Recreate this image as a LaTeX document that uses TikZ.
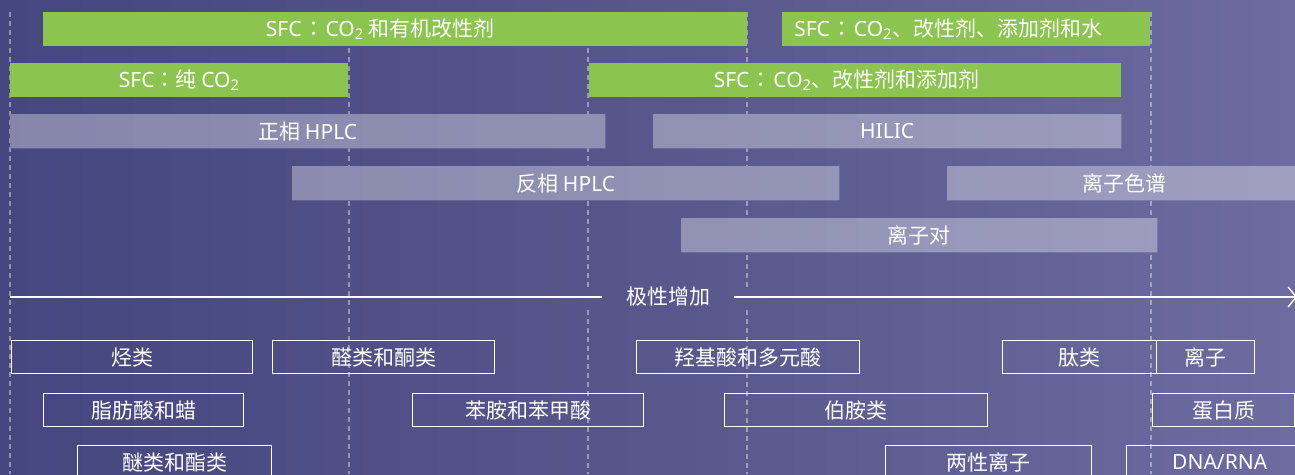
\documentclass[tikz,border=0pt]{standalone}
\usepackage{fontspec}
\setmainfont{Noto Sans CJK SC}
\newfontfamily\lat{Noto Sans}
\newfontfamily\tccolon{Noto Sans CJK TC}
\usetikzlibrary{arrows.meta}
\definecolor{bgL}{HTML}{464680}
\definecolor{bgM}{HTML}{57578C}
\definecolor{bgR}{HTML}{6D6BA0}
\definecolor{sfcgreen}{HTML}{8BC54F}
\pgfdeclarelayer{backdrop}
\pgfdeclarelayer{guides}
\pgfdeclarelayer{barfill}
\pgfsetlayers{backdrop,guides,barfill,main}
\newcommand{\cotwo}{{\lat CO\textsubscript{2}}}
\newcommand{\sfc}{{\lat SFC}}
\newcommand{\wcolon}{\hspace*{1.5pt}{\tccolon ：}\hspace*{1.5pt}}
\newcommand{\ncolon}{{\tccolon ：}}
\tikzset{
  txt/.style={text=white, font=\fontsize{21}{22}\selectfont},
  bar/.style={txt, anchor=north west, minimum height=34pt, inner sep=0pt},
  greenbar/.style={bar, fill=sfcgreen},
  graybar/.style={bar},
  cbox/.style={txt, anchor=north west, minimum height=33pt, inner sep=0pt, draw=white, line width=1.4pt},
  guide/.style={draw=white, draw opacity=0.4, line width=1.1pt, dash pattern=on 5pt off 4pt},
  axisline/.style={draw=white, line width=1.6pt},
  bgshade/.style={left color=bgL, right color=bgR, middle color=bgM},
}
\begin{document}
\begin{tikzpicture}[x=1pt,y=-1pt]
\useasboundingbox (0,0) rectangle (1295,474);
\clip (0,0) rectangle (1295,474);
\begin{pgfonlayer}{backdrop}
\shade[bgshade] (0,0) rectangle (1295,474);
\end{pgfonlayer}
% guide lines
\coordinate (v1t) at (10,12);   \coordinate (v1b) at (10,474);
\coordinate (v2t) at (349,12);  \coordinate (v2b) at (349,474);
\coordinate (v3t) at (588,12);  \coordinate (v3m) at (588,287); \coordinate (v3n) at (588,310); \coordinate (v3b) at (588,474);
\coordinate (v4t) at (747,12);  \coordinate (v4m) at (747,287); \coordinate (v4n) at (747,310); \coordinate (v4b) at (747,474);
\coordinate (v5t) at (1151,12); \coordinate (v5b) at (1151,474);
\begin{pgfonlayer}{guides}
\draw[guide] (v1t) -- (v1b);
\draw[guide] (v2t) -- (v2b);
\draw[guide] (v3t) -- (v3m);
\draw[guide] (v3n) -- (v3b);
\draw[guide] (v4t) -- (v4m);
\draw[guide] (v4n) -- (v4b);
\draw[guide] (v5t) -- (v5b);
\end{pgfonlayer}
% SFC bars
\node[greenbar, minimum width=704pt] (g1) at (43,12) {\sfc\wcolon\cotwo{} 和有机改性剂\kern30pt};
\node[greenbar, minimum width=368pt] (g2) at (782,12) {\sfc\wcolon\cotwo、改性剂、添加剂和水\kern36pt};
\node[greenbar, minimum width=338pt] (g3) at (10,63) {\sfc\ncolon 纯 \cotwo};
\node[greenbar, minimum width=532pt] (g4) at (589,63) {\sfc\wcolon\cotwo、改性剂和添加剂\kern17pt};
% HPLC bars (fill drawn on barfill layer)
\node[graybar, minimum width=595pt] (p1) at (10,114) {正相 {\lat HPLC}};
\node[graybar, minimum width=468pt] (p2) at (653,114) {{\lat HILIC}};
\node[graybar, minimum width=547pt] (p3) at (292,166) {反相 {\lat HPLC}};
\node[graybar, minimum width=355pt] (p4) at (947,166) {离子色谱};
\node[graybar, minimum width=476pt] (p5) at (681,218) {离子对};
\begin{pgfonlayer}{barfill}
\begin{scope}
\clip (p1.north west) rectangle (p1.south east)
      (p2.north west) rectangle (p2.south east)
      (p3.north west) rectangle (p3.south east)
      (p4.north west) rectangle (p4.south east)
      (p5.north west) rectangle (p5.south east);
\shade[bgshade] (0,0) rectangle (1295,474);
\fill[white, opacity=0.35] (0,0) rectangle (1295,474);
\end{scope}
\end{pgfonlayer}
% axis
\coordinate (axL) at (10,297);
\coordinate (axR) at (1297,297);
\node[txt, inner xsep=24pt, inner ysep=2pt] (lab) at (668,297) {极性增加};
\draw[axisline] (axL) -- (lab.west);
\draw[axisline, -{Straight Barb[length=8pt, width=20pt, line width=1.4pt]}] (lab.east) -- (axR);
% compound boxes
\node[cbox, minimum width=241pt] (b1) at (11,340) {烃类};
\node[cbox, minimum width=222pt] (b2) at (272,340) {醛类和酮类};
\node[cbox, minimum width=223pt] (b3) at (636,340) {羟基酸和多元酸};
\node[cbox, minimum width=154pt] (b4) at (1002,340) {肽类};
\node[cbox, minimum width=98pt] (b5) at (1156,340) {离子};
\node[cbox, minimum width=200pt] (b6) at (43,393) {脂肪酸和蜡};
\node[cbox, minimum width=231pt] (b7) at (412,393) {苯胺和苯甲酸};
\node[cbox, minimum width=263pt] (b8) at (724,393) {伯胺类};
\node[cbox, minimum width=142pt] (b9) at (1152,393) {蛋白质};
\node[cbox, minimum width=194pt] (b10) at (77,445) {醚类和酯类};
\node[cbox, minimum width=206pt] (b11) at (885,445) {两性离子};
\node[cbox, minimum width=186pt] (b12) at (1126,445) {{\lat DNA/RNA}};
\end{tikzpicture}
\end{document}
